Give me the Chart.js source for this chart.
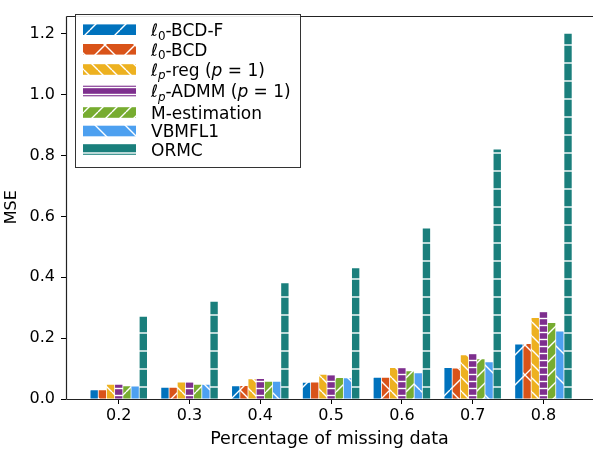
<!DOCTYPE html>
<html><head><meta charset="utf-8">
<style>html,body{margin:0;padding:0;overflow:hidden;background:#fff}#wrap{position:relative;width:593px;height:451px}</style>
<script src="https://cdn.jsdelivr.net/npm/chart.js@4.4.1/dist/chart.umd.min.js"></script>
</head><body><div id="wrap"><canvas id="c" width="593" height="451"></canvas></div>
<script>
// ---- data ----
const categories = [0.2, 0.3, 0.4, 0.5, 0.6, 0.7, 0.8];
const xTicks = [0.2, 0.3, 0.4, 0.5, 0.6, 0.7, 0.8];
const yTicks = [0.0, 0.2, 0.4, 0.6, 0.8, 1.0, 1.2];
const seriesLabels = ["ℓ_{0}-BCD-F", "ℓ_{0}-BCD", "ℓ_{p}-reg (*p* = 1)", "ℓ_{p}-ADMM (*p* = 1)", "M-estimation", "VBMFL1", "ORMC"];
const l0BCDF = [0.029, 0.037, 0.042, 0.053, 0.070, 0.102, 0.179];
const l0BCD  = [0.029, 0.037, 0.043, 0.054, 0.070, 0.100, 0.181];
const lpReg  = [0.047, 0.054, 0.065, 0.080, 0.102, 0.144, 0.266];
const lpADMM = [0.047, 0.054, 0.066, 0.078, 0.104, 0.148, 0.287];
const mEst   = [0.042, 0.047, 0.057, 0.069, 0.091, 0.131, 0.250];
const vbmfl1 = [0.041, 0.047, 0.057, 0.068, 0.085, 0.121, 0.222];
const ormc   = [0.27, 0.32, 0.38, 0.43, 0.56, 0.82, 1.20];
const seriesValues = [l0BCDF, l0BCD, lpReg, lpADMM, mEst, vbmfl1, ormc];

// ---- styles ----
const colors = ['#0072BD', '#D95319', '#EDB120', '#7E2F8E', '#77AC30', '#4DA0F0', '#1A7F7C'];
const hatches = [['/', 30], ['x', 30], ['\\', 14], ['-', 7.3], ['/', 14], ['\\', 30], ['-', 17.7]];

function makeHatch(color, type, P) {
  const n = Math.max(1, Math.round(P));
  const cv = document.createElement('canvas');
  cv.width = n; cv.height = n;
  const g = cv.getContext('2d');
  g.fillStyle = color; g.fillRect(0, 0, n, n);
  g.strokeStyle = '#ffffff'; g.lineWidth = 1.4;
  g.beginPath();
  if (type === '/' || type === 'x') {
    for (let k = -1; k <= 1; k++) { g.moveTo(k * n, n); g.lineTo(k * n + n, 0); }
  }
  if (type === '\\' || type === 'x') {
    for (let k = -1; k <= 1; k++) { g.moveTo(k * n, 0); g.lineTo(k * n + n, n); }
  }
  if (type === '-') { g.moveTo(0, n / 2); g.lineTo(n, n / 2); }
  g.stroke();
  return document.getElementById('c').getContext('2d').createPattern(cv, 'repeat');
}
const patterns = colors.map((c, i) => makeHatch(c, hatches[i][0], hatches[i][1]));

const FONT = '"DejaVu Sans", sans-serif';

function richSegments(str) {
  const parts = str.split(/(_\{[^}]*\}|\*[^*]*\*|ℓ)/).filter(s => s.length);
  return parts.map(p => {
    if (p === 'ℓ') return { t: p, italic: true, sub: false };
    if (p.startsWith('_{')) { const t = p.slice(2, -1); return { t, italic: /[a-z]/i.test(t), sub: true }; }
    if (p.startsWith('*')) return { t: p.slice(1, -1), italic: true, sub: false };
    return { t: p, italic: false, sub: false };
  });
}
function drawRich(ctx, str, x, y, size) {
  let cx = x;
  for (const seg of richSegments(str)) {
    const sz = seg.sub ? size * 0.7 : size;
    ctx.font = (seg.italic ? 'italic ' : '') + sz + 'px ' + FONT;
    ctx.fillText(seg.t, cx, seg.sub ? y + size * 0.22 : y);
    cx += ctx.measureText(seg.t).width;
  }
}

const spinePlugin = {
  id: 'spines',
  afterDraw(chart) {
    const { left, right, top, bottom } = chart.chartArea;
    const ctx = chart.ctx;
    const W = chart.width;
    const l = Math.round(left) + 0.5, t = Math.round(top) + 0.5, b = Math.round(bottom) + 0.5;
    ctx.save();
    // clear the strip at the right edge of the plot (no marks there; hides the frame edge)
    ctx.fillStyle = '#ffffff';
    ctx.fillRect(right - 6, top + 1.5, W - right + 6, bottom - top - 3);
    ctx.strokeStyle = '#222'; ctx.lineWidth = 1.2; ctx.lineCap = 'butt';
    ctx.beginPath(); ctx.moveTo(l, t); ctx.lineTo(W, t); ctx.stroke();
    ctx.beginPath(); ctx.moveTo(l, t); ctx.lineTo(l, b); ctx.stroke();
    ctx.beginPath(); ctx.moveTo(l, b); ctx.lineTo(W, b); ctx.stroke();
    ctx.restore();
  }
};
const legendPlugin = {
  id: 'boxLegend',
  afterDraw(chart) {
    const ctx = chart.ctx;
    ctx.save();
    const bx = 75.5, by = 14.5, bw = 225, bh = 153;
    ctx.fillStyle = 'rgba(255,255,255,0.9)';
    ctx.fillRect(bx, by, bw, bh);
    ctx.strokeStyle = '#333'; ctx.lineWidth = 1;
    ctx.strokeRect(bx, by, bw, bh);
    const rows = [29.7, 49.3, 69.5, 91, 112.5, 131, 149.5];
    chart.data.datasets.forEach((ds, i) => {
      const cy = rows[i];
      ctx.fillStyle = ds.backgroundColor;
      ctx.fillRect(83, cy - 5.3, 53, 10.6);
      ctx.fillStyle = '#000';
      ctx.textBaseline = 'alphabetic';
      ctx.textAlign = 'left';
      drawRich(ctx, ds.label, 151, cy + 6.2, 17);
    });
    ctx.restore();
  }
};

const datasets = seriesValues.map((vals, i) => ({
  label: seriesLabels[i],
  data: categories.map((x, j) => ({ x, y: vals[j] })),
  backgroundColor: patterns[i],
  borderWidth: 0,
  categoryPercentage: 0.81,
  barPercentage: 0.9
}));

new Chart(document.getElementById('c'), {
  type: 'bar',
  data: { datasets },
  plugins: [spinePlugin, legendPlugin],
  options: {
    responsive: false, animation: false, devicePixelRatio: 1,
    layout: { padding: { top: 5, right: 0, left: 0, bottom: 0 } },
    plugins: { legend: { display: false }, tooltip: { enabled: false } },
    scales: {
      x: {
        type: 'linear', min: 0.1255, max: 0.870, offset: false,
        afterBuildTicks: s => { s.ticks = xTicks.map(v => ({ value: v })); },
        afterFit: s => { s.height = 52; },
        grid: { display: true, offset: false, drawOnChartArea: false, drawTicks: true, tickLength: 5, color: '#000' },
        border: { display: false },
        ticks: { color: '#000', font: { family: FONT, size: 16 }, padding: 2, callback: v => v.toFixed(1), maxRotation: 0, autoSkip: false },
        title: { display: true, text: 'Percentage of missing data', color: '#000', font: { family: FONT, size: 17.5 }, padding: { top: 0, bottom: 1 } }
      },
      y: {
        min: 0, max: 1.26,
        afterBuildTicks: s => { s.ticks = yTicks.map(v => ({ value: v })); },
        afterFit: s => { s.width = 66; },
        grid: { display: true, offset: false, drawOnChartArea: false, drawTicks: true, tickLength: 5, color: '#000' },
        border: { display: false },
        ticks: { color: '#000', font: { family: FONT, size: 16 }, padding: 6, callback: v => v.toFixed(1) },
        title: { display: true, text: 'MSE', color: '#000', font: { family: FONT, size: 16 }, padding: { top: 2, bottom: 0 } }
      }
    }
  }
});
</script></body></html>
